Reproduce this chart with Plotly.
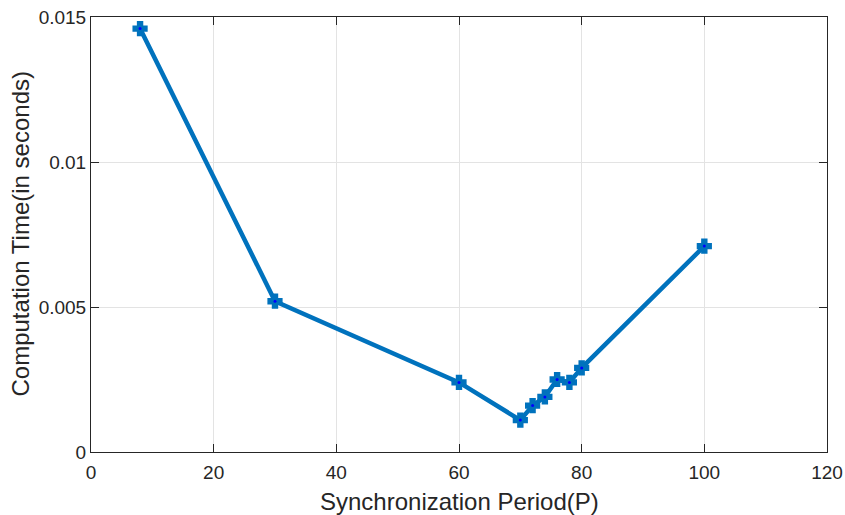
import plotly.graph_objects as go

# Synchronization period vs. computation time
period = [8, 30, 60, 70, 72, 74, 76, 78, 80, 100]
comp_time = [0.0146, 0.0052, 0.0024, 0.0011, 0.0016, 0.0019, 0.0025, 0.0024, 0.0029, 0.0071]

x_ticks = [0, 20, 40, 60, 80, 100, 120]
y_ticks = [0, 0.005, 0.01, 0.015]
y_tick_text = ["0", "0.005", "0.01", "0.015"]

line_color = "#0072BD"
text_color = "#262626"
font_family = "Liberation Sans, Arial, sans-serif"

fig = go.Figure()
fig.add_trace(go.Scatter(
    x=period, y=comp_time, mode="lines+markers",
    line=dict(color=line_color, width=4.5),
    marker=dict(symbol="cross", size=11, color=line_color,
                line=dict(width=2, color=line_color)),
    showlegend=False,
))
fig.add_trace(go.Scatter(
    x=period, y=comp_time, mode="markers",
    marker=dict(symbol="circle", size=3, color="#0000ff"),
    showlegend=False, hoverinfo="skip",
))

axis_common = dict(
    showline=True, linecolor=text_color, linewidth=1, mirror="ticks",
    ticks="inside", ticklen=8, tickcolor=text_color, tickwidth=1,
    showgrid=True, gridcolor="#e3e3e3", gridwidth=1,
    zeroline=False, automargin=False,
    tickfont=dict(family=font_family, size=19, color=text_color),
)

fig.update_layout(
    width=845, height=515,
    margin=dict(l=91, r=18, t=17, b=63),
    paper_bgcolor="white", plot_bgcolor="white",
    font=dict(family=font_family, color=text_color),
    xaxis=dict(range=[0, 120], tickvals=x_ticks, ticklabelstandoff=3, **axis_common),
    yaxis=dict(range=[0, 0.015], tickvals=y_ticks, ticktext=y_tick_text, **axis_common),
    annotations=[
        dict(text="Synchronization Period(P)", xref="paper", yref="paper",
             x=0.5, y=0, yshift=-49, xanchor="center", yanchor="middle",
             showarrow=False, font=dict(size=24, color=text_color)),
        dict(text="Computation Time(in seconds)", xref="paper", yref="paper",
             x=0, y=0.5, xshift=-71, xanchor="center", yanchor="middle", textangle=-90,
             showarrow=False, font=dict(size=24, color=text_color)),
    ],
)

fig.write_html("out.html")
